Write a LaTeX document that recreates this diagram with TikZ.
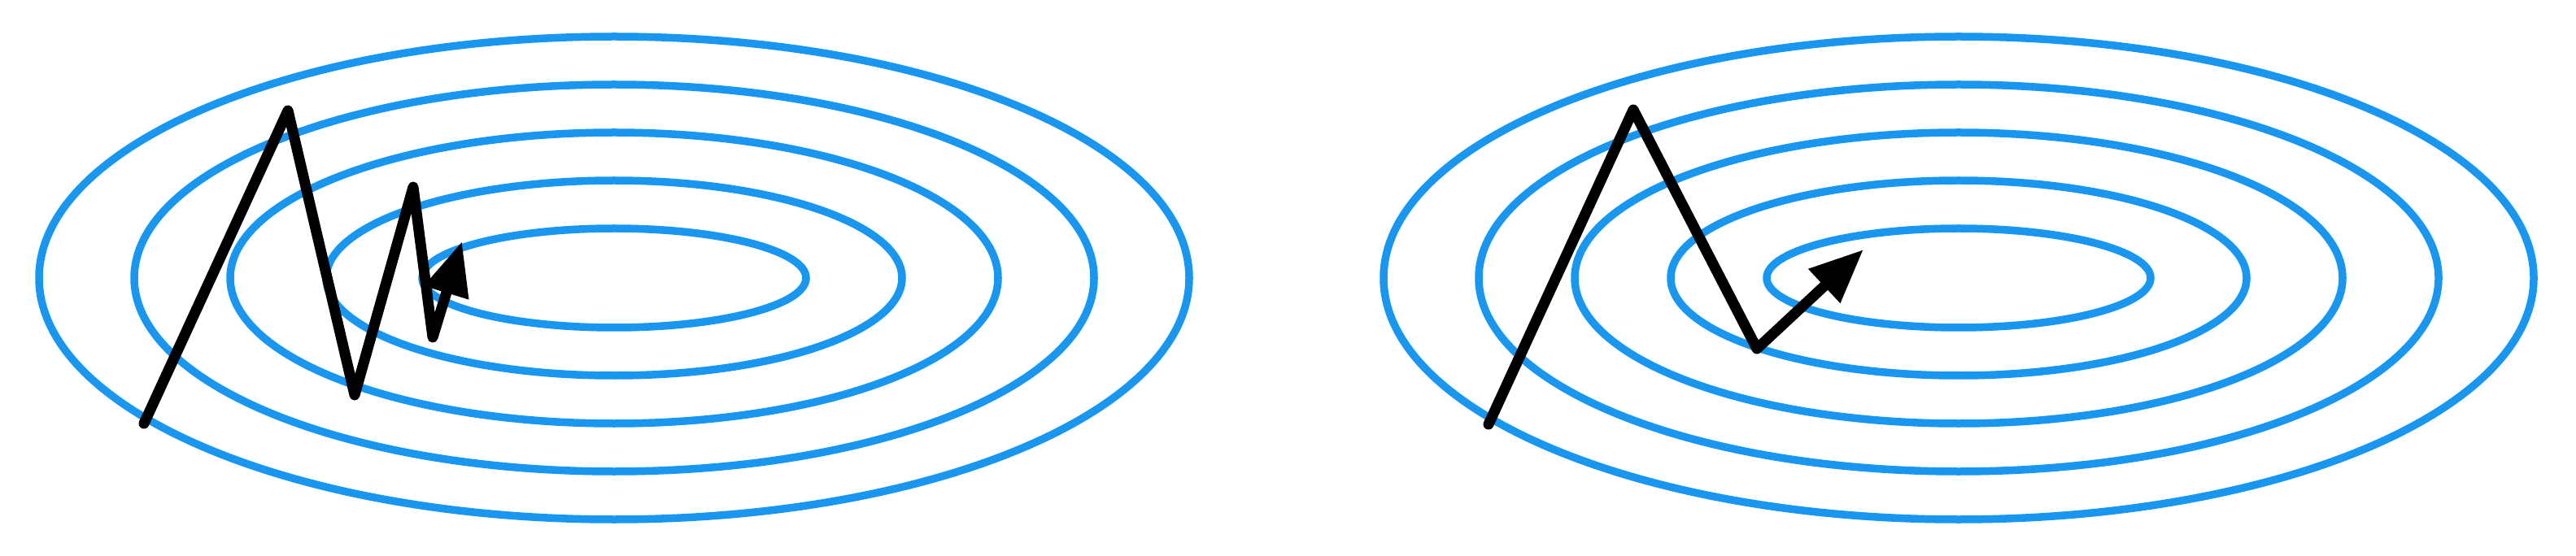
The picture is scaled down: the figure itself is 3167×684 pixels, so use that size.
\documentclass[tikz,border=0pt]{standalone}
\usetikzlibrary{arrows.meta}
\definecolor{contour}{RGB}{24,150,240}
\tikzset{
  level/.style={draw=contour, line width=9.5pt},
  descent/.style={draw=black, line width=13pt, line cap=round, line join=round,
    -{Triangle[length=66pt,width=54pt]}},
}
\begin{document}
\begin{tikzpicture}[x=1pt,y=-1pt]
\useasboundingbox (0,0) rectangle (3167,684);
% contours, left and right
\foreach \a/\b in {707/297,590/238,472/179,354/120,236/61}{
  \draw[level] (755,342) ellipse [x radius=\a, y radius=\b];
  \draw[level] (2408,342) ellipse [x radius=\a, y radius=\b];
}
% left path (oscillating)
\coordinate (l1) at (177,521);
\coordinate (l2) at (354,136);
\coordinate (l3) at (436,486);
\coordinate (l4) at (508,230);
\coordinate (l5) at (532,415);
\coordinate (l6) at (568,297);
\draw[descent] (l1) -- (l2) -- (l3) -- (l4) -- (l5) -- (l6);
% right path (smoother)
\coordinate (r1) at (1830,522);
\coordinate (r2) at (2008,135);
\coordinate (r3) at (2160,429);
\coordinate (r4) at (2291,307);
\draw[descent] (r1) -- (r2) -- (r3) -- (r4);
\end{tikzpicture}
\end{document}
